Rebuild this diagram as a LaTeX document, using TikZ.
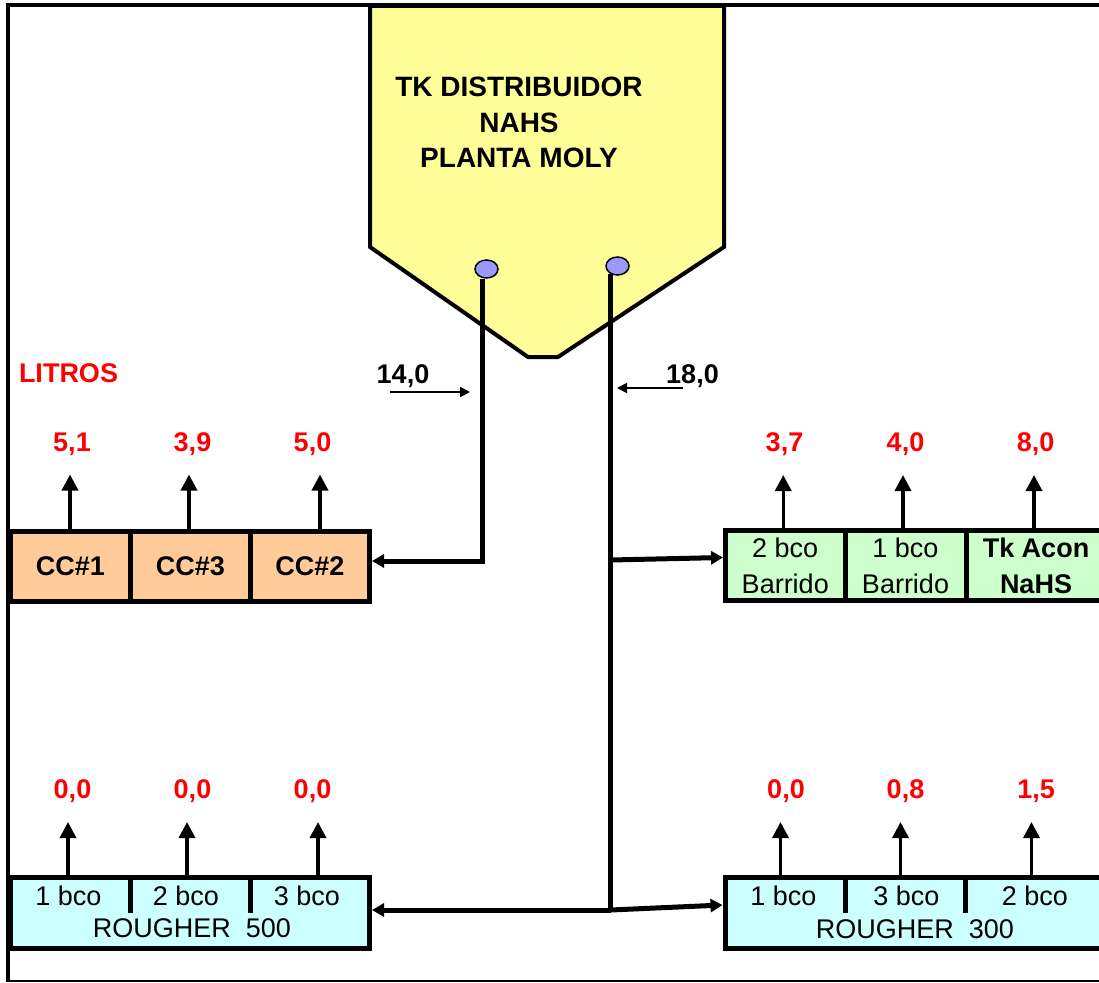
\documentclass[tikz,border=0pt]{standalone}
\usepackage{fontspec}
\setmainfont{Liberation Sans}
\usetikzlibrary{arrows.meta,shapes.geometric}
\definecolor{peach}{HTML}{FFCC99}
\definecolor{mint}{HTML}{CCFFCC}
\definecolor{aqua}{HTML}{CCFFFF}
\definecolor{tankyellow}{HTML}{FFFF99}
\definecolor{lilac}{HTML}{9999FF}
\definecolor{valred}{HTML}{FF0000}
\begin{document}
\begin{tikzpicture}[x=1pt,y=-1pt,
  txt/.style={font=\fontsize{27}{36}\selectfont},
  btxt/.style={font=\bfseries\fontsize{27}{36}\selectfont},
  cell/.style={draw=black,line width=5pt,rectangle,inner sep=0pt,align=center},
  ccbox/.style={cell,btxt,fill=peach,minimum width=120pt,minimum height=70pt},
  grbox/.style={cell,fill=mint,minimum height=70pt},
  rbox/.style={cell,fill=aqua,minimum width=359pt,minimum height=71pt},
  divider/.style={line width=5pt},
  pipe/.style={line width=5pt},
  pipearrow/.style={pipe,-{Triangle[length=12pt,width=13pt]}},
  uparrow/.style={line width=3.5pt,-{Triangle[length=16pt,width=16pt]}},
  flowarrow/.style={line width=2pt,-{Triangle[length=10pt,width=10pt]}},
  val/.style={btxt,text=valred,inner sep=0pt,anchor=base},
  lbl/.style={btxt,inner sep=0pt,anchor=base},
  plain/.style={txt,inner sep=0pt,anchor=base},
  tankshape/.style={draw=black,line width=4pt,fill=tankyellow,line join=miter},
  valve/.style={ellipse,draw=black,line width=1.5pt,fill=lilac,minimum width=23pt,minimum height=18pt,inner sep=0pt}
]
\useasboundingbox (0,0) rectangle (1099,982);
\clip (0,0) rectangle (1099,982);
\fill[white] (0,0) rectangle (1099,982);

% frame
\draw[line width=4pt] (8,982) -- (8,5) -- (1099,5);
\draw[line width=2pt] (8,981) -- (1099,981);

% tank
\draw[tankshape] (370,6) -- (370,247) -- (528,357) -- (558,357) -- (724,247) -- (724,6) -- cycle;
\node[align=center,inner sep=0pt,font=\bfseries\fontsize{28}{35.6}\selectfont] (tank) at (519,122.5)
  {TK DISTRIBUIDOR\\NAHS\\PLANTA MOLY};
\node[valve] (c1) at (486.5,269) {};
\node[valve] (c2) at (617.5,266) {};

% LITROS
\node[val] (litros) at (68.5,382) {LITROS};

% top-left boxes
\node[ccbox] (cc1) at (70.5,566) {CC\#1};
\node[ccbox] (cc3) at (190.5,566) {CC\#3};
\node[ccbox,minimum width=119pt] (cc2) at (310,566) {CC\#2};

% top-right boxes
\node[grbox,txt,minimum width=119.5pt] (g2) at (785.25,565.5) {2 bco\\Barrido};
\node[grbox,txt,minimum width=121pt] (g1) at (905.5,565.5) {1 bco\\Barrido};
\node[grbox,btxt,minimum width=140pt] (tka) at (1036,565.5) {Tk Acon\\NaHS};

% bottom-left box
\node[rbox] (r500) at (190,913) {};
\draw[divider] (130.5,877.5) -- (130.5,913);
\draw[divider] (250.5,877.5) -- (250.5,913);
\node[plain] (l1) at (68.5,905) {1 bco};
\node[plain] (l2) at (186,905) {2 bco};
\node[plain] (l3) at (307,905) {3 bco};
\node[plain] (l500) at (192,937) {ROUGHER\ \ 500};

% bottom-right box
\node[rbox,minimum width=381pt] (r300) at (915.5,913) {};
\draw[divider] (845.5,877.5) -- (845.5,913);
\draw[divider] (965.5,877.5) -- (965.5,913);
\node[plain] (m1) at (783.5,905) {1 bco};
\node[plain] (m3) at (906.5,905) {3 bco};
\node[plain] (m2) at (1035,905) {2 bco};
\node[plain] (l300) at (915,938) {ROUGHER\ \ 300};

% pipes
\coordinate (jA) at (610.5,560);
\coordinate (jB) at (610.5,910);
\draw[pipearrow] ([xshift=-4pt]c1.south) |- ([yshift=5pt]cc2.east);
\draw[pipe] ([xshift=-7pt,yshift=2pt]c2.south) -- (jB);
\draw[pipearrow] (jA) -- ([yshift=8pt]g2.west);
\draw[pipearrow] (jB) -- ([yshift=3pt]r500.east);
\draw[pipearrow] (jB) -- ([yshift=8pt]r300.west);

% flow labels
\node[lbl] (f14) at (403,383) {14,0};
\node[lbl] (f18) at (692.5,383) {18,0};
\coordinate (f14s) at (390,392);
\coordinate (f18s) at (683,388);
\draw[flowarrow] (f14s) -- (470,392);
\draw[flowarrow] (f18s) -- (617,388);

% values top
\node[val] (v1) at (72,451) {5,1};
\node[val] (v2) at (192.5,451) {3,9};
\node[val] (v3) at (312.5,451) {5,0};
\node[val] (v4) at (784.5,451) {3,7};
\node[val] (v5) at (905.5,451) {4,0};
\node[val] (v6) at (1035.5,451) {8,0};
\draw[uparrow] ([xshift=-0.5pt]cc1.north) -- ++(0,-54);
\draw[uparrow] ([xshift=-1.5pt]cc3.north) -- ++(0,-54);
\draw[uparrow] ([xshift=10pt]cc2.north) -- ++(0,-54);
\draw[uparrow] ([xshift=-2pt]g2.north) -- ++(0,-53);
\draw[uparrow] ([xshift=-2.5pt]g1.north) -- ++(0,-53);
\draw[uparrow] ([xshift=-2pt]tka.north) -- ++(0,-53);

% values bottom
\node[val] (w1) at (72.5,798) {0,0};
\node[val] (w2) at (192.5,798) {0,0};
\node[val] (w3) at (312.5,798) {0,0};
\node[val] (w4) at (786,798) {0,0};
\node[val] (w5) at (905.5,798) {0,8};
\node[val] (w6) at (1036,798) {1,5};
\draw[uparrow] ([xshift=60pt]r500.north west) -- ++(0,-53);
\draw[uparrow] ([xshift=179pt]r500.north west) -- ++(0,-53);
\draw[uparrow] ([xshift=310pt]r500.north west) -- ++(0,-53);
\draw[uparrow] ([xshift=58pt]r300.north west) -- ++(0,-53);
\draw[uparrow] ([xshift=178pt]r300.north west) -- ++(0,-53);
\draw[uparrow] ([xshift=309pt]r300.north west) -- ++(0,-53);
\end{tikzpicture}
\end{document}
